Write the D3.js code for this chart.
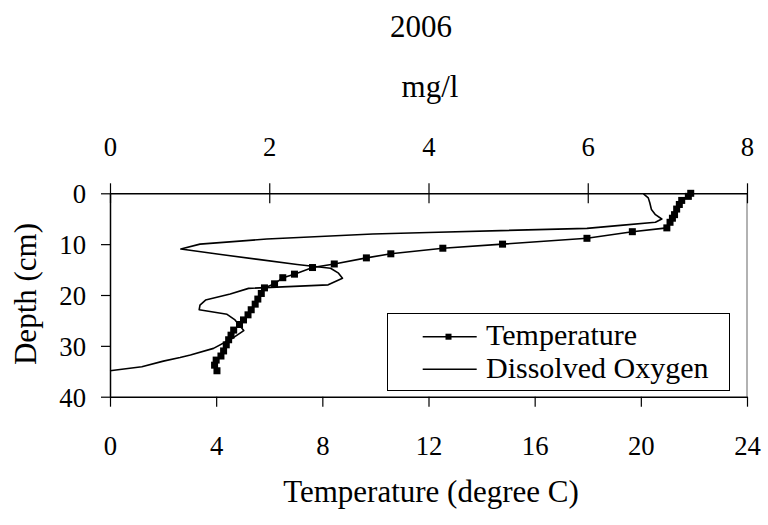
<!DOCTYPE html>
<html>
<head>
<meta charset="utf-8">
<script src="https://cdn.jsdelivr.net/npm/d3@7/dist/d3.min.js"></script>
<style>
  html, body { margin: 0; padding: 0; background: #fff; }
  svg { display: block; }
  text { font-family: "Liberation Serif", "Times New Roman", "DejaVu Serif", serif; fill: #000; }
</style>
</head>
<body>
<svg id="chart" width="768" height="525"></svg>
<script>
// ---- data ----
const tempDepth = [0, 0.6, 1.4, 2.2, 3.1, 4.2, 4.9, 5.7, 6.8, 7.55, 8.85, 10.0, 10.8, 11.9, 12.7, 13.9, 14.6, 15.9, 16.6, 17.8, 18.6, 19.7, 20.8, 21.8, 22.9, 23.9, 24.9, 25.8, 26.9, 27.9, 28.8, 29.8, 31.0, 32.0, 32.8, 33.8, 34.9];
const tempValue = [21.88, 21.79, 21.54, 21.45, 21.35, 21.27, 21.19, 21.1, 20.98, 19.68, 17.97, 14.79, 12.54, 10.58, 9.66, 8.45, 7.63, 6.95, 6.51, 6.2, 5.82, 5.7, 5.57, 5.47, 5.32, 5.2, 5.03, 4.88, 4.66, 4.56, 4.47, 4.38, 4.28, 4.18, 4.0, 3.94, 4.03];

const doDepth = [0.1, 0.9, 1.9, 3.2, 4.2, 5.05, 5.7, 6.3, 6.9, 7.7, 8.0, 9.0, 10.0, 10.95, 12.0, 13.0, 14.0, 14.75, 15.7, 16.7, 18.0, 18.7, 19.8, 21.0, 22.0, 22.9, 23.8, 24.9, 27.0, 28.4, 30.5, 31.8, 32.3, 33.0, 34.1, 34.9];
const doValue = [6.70, 6.76, 6.78, 6.80, 6.85, 6.93, 6.85, 6.41, 5.99, 4.0, 3.3, 1.97, 1.13, 0.89, 1.37, 1.86, 2.35, 2.77, 2.87, 2.92, 2.74, 1.74, 1.51, 1.2, 1.13, 1.12, 1.47, 1.57, 1.68, 1.55, 1.30, 1.01, 0.88, 0.67, 0.40, 0.0];

const depthTicks = [0, 10, 20, 30, 40];
const tempTicks = [0, 4, 8, 12, 16, 20, 24];
const doTicks = [0, 2, 4, 6, 8];

const chartTitle = "2006";
const topAxisTitle = "mg/l";
const bottomAxisTitle = "Temperature (degree C)";
const leftAxisTitle = "Depth (cm)";
const seriesNames = ["Temperature", "Dissolved Oxygen"];

// ---- layout ----
const L = 110, R = 747, T = 193.3, B = 396.7;
const svg = d3.select("#chart");

const y = d3.scaleLinear().domain([0, 40]).range([T, B]);
const xT = d3.scaleLinear().domain([0, 24]).range([L, R]);
const xO = d3.scaleLinear().domain([0, 8]).range([L, R]);

// right gray border
svg.append("line").attr("x1", R).attr("x2", R).attr("y1", T).attr("y2", B)
  .attr("stroke", "#999").attr("stroke-width", 1.5);

// axes
const fontTick = 26.7;
function styleAxis(g) {
  g.selectAll("path.domain").attr("stroke", "#000").attr("stroke-width", 1.5);
  g.selectAll(".tick line").attr("stroke", "#000").attr("stroke-width", 1.2);
  g.selectAll(".tick text").attr("font-size", fontTick).attr("font-family", "Liberation Serif, Times New Roman, serif");
}

const gLeft = svg.append("g").attr("transform", `translate(${L},0)`)
  .call(d3.axisLeft(y).tickValues(depthTicks).tickSize(9).tickSizeOuter(0).tickPadding(15));
styleAxis(gLeft);
gLeft.selectAll(".tick text").attr("dy", "0.36em").attr("x", -24);

const gBottom = svg.append("g").attr("transform", `translate(0,${B})`)
  .call(d3.axisBottom(xT).tickValues(tempTicks).tickSize(10).tickSizeOuter(0));
styleAxis(gBottom);
gBottom.selectAll(".tick text").attr("y", 58.5).attr("dy", 0);

const gTop = svg.append("g").attr("transform", `translate(0,${T})`)
  .call(d3.axisTop(xO).tickValues(doTicks).tickSize(10).tickSizeOuter(0));
styleAxis(gTop);
gTop.selectAll(".tick line").attr("y1", 10).attr("y2", -10);
gTop.selectAll(".tick text").attr("y", -37).attr("dy", 0);

// lines
const lineT = d3.line().x(d => xT(d[1])).y(d => y(d[0]));
const lineO = d3.line().x(d => xO(d[1])).y(d => y(d[0]));
const tData = tempDepth.map((d, i) => [d, tempValue[i]]);
const oData = doDepth.map((d, i) => [d, doValue[i]]);

svg.append("path").datum(oData).attr("d", lineO)
  .attr("fill", "none").attr("stroke", "#000").attr("stroke-width", 1.6).attr("stroke-linejoin", "round");
svg.append("path").datum(tData).attr("d", lineT)
  .attr("fill", "none").attr("stroke", "#000").attr("stroke-width", 1.6);
const ms = 7;
svg.append("g").selectAll("rect").data(tData).join("rect")
  .attr("x", d => xT(d[1]) - ms / 2).attr("y", d => y(d[0]) - ms / 2)
  .attr("width", ms).attr("height", ms).attr("fill", "#000");

// titles
svg.append("text").attr("x", 421).attr("y", 37).attr("text-anchor", "middle")
  .attr("font-size", 31).text(chartTitle);
svg.append("text").attr("x", 430).attr("y", 96.5).attr("text-anchor", "middle")
  .attr("font-size", 31).text(topAxisTitle);
svg.append("text").attr("x", 431).attr("y", 501.5).attr("text-anchor", "middle")
  .attr("font-size", 31).text(bottomAxisTitle);
svg.append("text").attr("transform", "translate(36,294) rotate(-90)").attr("text-anchor", "middle")
  .attr("font-size", 31).text(leftAxisTitle);

// legend
const lg = svg.append("g");
lg.append("rect").attr("x", 387.5).attr("y", 313.5).attr("width", 342).attr("height", 77)
  .attr("fill", "#fff").attr("stroke", "#000").attr("stroke-width", 1);
const legY = [336.7, 369.3];
lg.selectAll("line.s").data(seriesNames).join("line")
  .attr("x1", 422.7).attr("x2", 476.7)
  .attr("y1", (d, i) => legY[i]).attr("y2", (d, i) => legY[i])
  .attr("stroke", "#000").attr("stroke-width", 1.6);
lg.append("rect").attr("x", 448.5 - 3).attr("y", legY[0] - 3).attr("width", 6).attr("height", 6).attr("fill", "#000");
lg.selectAll("text").data(seriesNames).join("text")
  .attr("x", 486).attr("y", (d, i) => legY[i] + 8.5)
  .attr("font-size", 30).text(d => d);
</script>
</body>
</html>
